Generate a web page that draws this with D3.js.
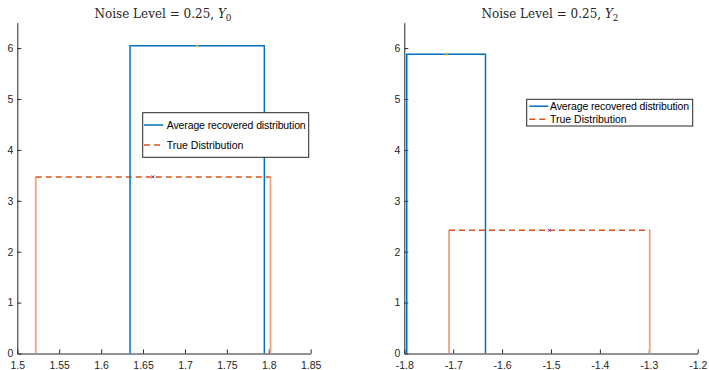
<!DOCTYPE html>
<html>
<head>
<meta charset="utf-8">
<script src="https://cdn.jsdelivr.net/npm/d3@7"></script>
<style>
  body { margin: 0; background: #fff; }
  svg { display: block; }
  .tick text { font-family: "Liberation Sans", Arial, sans-serif; font-size: 10.5px; fill: #262626; }
</style>
</head>
<body>
<svg id="chart" width="709" height="370"></svg>
<script>
// Panel titles
const panelNames = ["Y0", "Y2"];
const noiseLevel = "0.25";

// Average recovered distribution: bin edges and density per panel
const recoveredEdges = [[1.6345, 1.7947], [-1.795, -1.634]];
const recoveredHeight = [6.045, 5.88];

// True distribution: bin edges and density per panel
const trueEdges = [[1.522, 1.802], [-1.7086, -1.298]];
const trueHeight = [3.47, 2.42];

// Axis domains and tick values
const xDomains = [[1.5, 1.85], [-1.8, -1.2]];
const xTicks = [
  [1.5, 1.55, 1.6, 1.65, 1.7, 1.75, 1.8, 1.85],
  [-1.8, -1.7, -1.6, -1.5, -1.4, -1.3, -1.2]
];
const xTickLabels = [
  ["1.5", "1.55", "1.6", "1.65", "1.7", "1.75", "1.8", "1.85"],
  ["-1.8", "-1.7", "-1.6", "-1.5", "-1.4", "-1.3", "-1.2"]
];
const yTicks = [0, 1, 2, 3, 4, 5, 6];
const yTickLabels = ["0", "1", "2", "3", "4", "5", "6"];
const yDomain = [0, 6.5];

const legendLabels = ["Average recovered distribution", "True Distribution"];

const BLUE = "#0072BD";
const ORANGE = "#D95319";
const ORANGE_LIGHT = "#F0A283";
const YELLOW = "#EDB120";
const PURPLE = "#7E2F8E";

const panels = [
  { left: 17.3, right: 310.7, legend: { x: 142.7, y: 112.7, w: 166, h: 44.6, rows: [125, 145], lx0: 144, lx1: 163.3, tx: 166.7 }, titleX: 163 },
  { left: 404.3, right: 697.7, legend: { x: 526.7, y: 99.3, w: 166, h: 26.7, rows: [106.2, 119.2], lx0: 529.3, lx1: 548.3, tx: 550 }, titleX: 550 }
];
const plotTop = 22.65, plotBottom = 353.5;

const svg = d3.select("#chart");

panels.forEach((p, i) => {
  const x = d3.scaleLinear().domain(xDomains[i]).range([p.left, p.right]);
  const y = d3.scaleLinear().domain(yDomain).range([plotBottom, plotTop]);
  const g = svg.append("g");

  // Axes with ticks pointing inward
  const xAxis = d3.axisBottom(x).tickValues(xTicks[i])
    .tickFormat((d, k) => xTickLabels[i][k]).tickSizeInner(-4).tickSizeOuter(0).tickPadding(6);
  const gx = g.append("g").attr("transform", `translate(0,${plotBottom})`).call(xAxis);
  gx.selectAll(".tick text").attr("dy", "0.9em");

  const yAxis = d3.axisLeft(y).tickValues(yTicks)
    .tickFormat((d, k) => yTickLabels[k]).tickSizeInner(-4).tickSizeOuter(0).tickPadding(4);
  const gy = g.append("g").attr("transform", `translate(${p.left},0)`).call(yAxis);

  [gx, gy].forEach(a => {
    a.select(".domain").attr("stroke", "#262626").attr("stroke-width", 1);
    a.selectAll(".tick line").attr("stroke", "#262626");
  });

  // True distribution: solid light sides, dashed top
  const [t0, t1] = trueEdges[i];
  const th = trueHeight[i];
  [t0, t1].forEach(e => {
    g.append("line")
      .attr("x1", x(e)).attr("x2", x(e)).attr("y1", y(0)).attr("y2", y(th))
      .attr("stroke", ORANGE_LIGHT).attr("stroke-width", 1.8);
  });
  g.append("line")
    .attr("x1", x(t0)).attr("x2", x(t1)).attr("y1", y(th)).attr("y2", y(th))
    .attr("stroke", ORANGE).attr("stroke-width", 1.5).attr("stroke-dasharray", "6,4");

  // Recovered distribution outline
  const [r0, r1] = recoveredEdges[i];
  const rh = recoveredHeight[i];
  const path = d3.path();
  path.moveTo(x(r0), y(0));
  path.lineTo(x(r0), y(rh));
  path.lineTo(x(r1), y(rh));
  path.lineTo(x(r1), y(0));
  g.append("path").attr("d", path.toString())
    .attr("fill", "none").attr("stroke", BLUE).attr("stroke-width", 1.5);

  // Center markers on each distribution top
  const rc = (r0 + r1) / 2, tc = (t0 + t1) / 2;
  g.append("path")
    .attr("d", `M${x(rc) - 1.5},${y(rh)}h3M${x(rc)},${y(rh) - 1.5}v3`)
    .attr("stroke", YELLOW).attr("stroke-width", 1);
  g.append("path")
    .attr("d", `M${x(tc) - 1.5},${y(th) - 1.5}l3,3M${x(tc) - 1.5},${y(th) + 1.5}l3,-3`)
    .attr("stroke", PURPLE).attr("stroke-width", 1);

  // Title
  const title = g.append("text")
    .attr("x", p.titleX).attr("y", 18)
    .attr("text-anchor", "middle")
    .attr("font-family", "'DejaVu Serif', 'Liberation Serif', serif")
    .attr("font-size", 12)
    .attr("fill", "#262626");
  title.append("tspan").text(`Noise Level = ${noiseLevel}, `);
  title.append("tspan").attr("font-style", "italic").text(panelNames[i][0]);
  title.append("tspan").attr("font-size", 9).attr("dy", 3).text(panelNames[i].slice(1));

  // Legend
  const L = p.legend;
  g.append("rect").attr("x", L.x).attr("y", L.y).attr("width", L.w).attr("height", L.h)
    .attr("fill", "#fff").attr("stroke", "#262626").attr("stroke-width", 1);
  legendLabels.forEach((lab, k) => {
    g.append("line")
      .attr("x1", L.lx0).attr("x2", L.lx1).attr("y1", L.rows[k]).attr("y2", L.rows[k])
      .attr("stroke", k === 0 ? BLUE : ORANGE).attr("stroke-width", 1.5)
      .attr("stroke-dasharray", k === 0 ? null : "6,4");
    g.append("text")
      .attr("x", L.tx).attr("y", L.rows[k]).attr("dy", "0.35em")
      .attr("font-family", "'Liberation Sans', Arial, sans-serif")
      .attr("font-size", 10.5).attr("fill", "#000")
      .attr("textLength", k === 0 ? 139 : null)
      .text(lab);
  });
});
</script>
</body>
</html>
